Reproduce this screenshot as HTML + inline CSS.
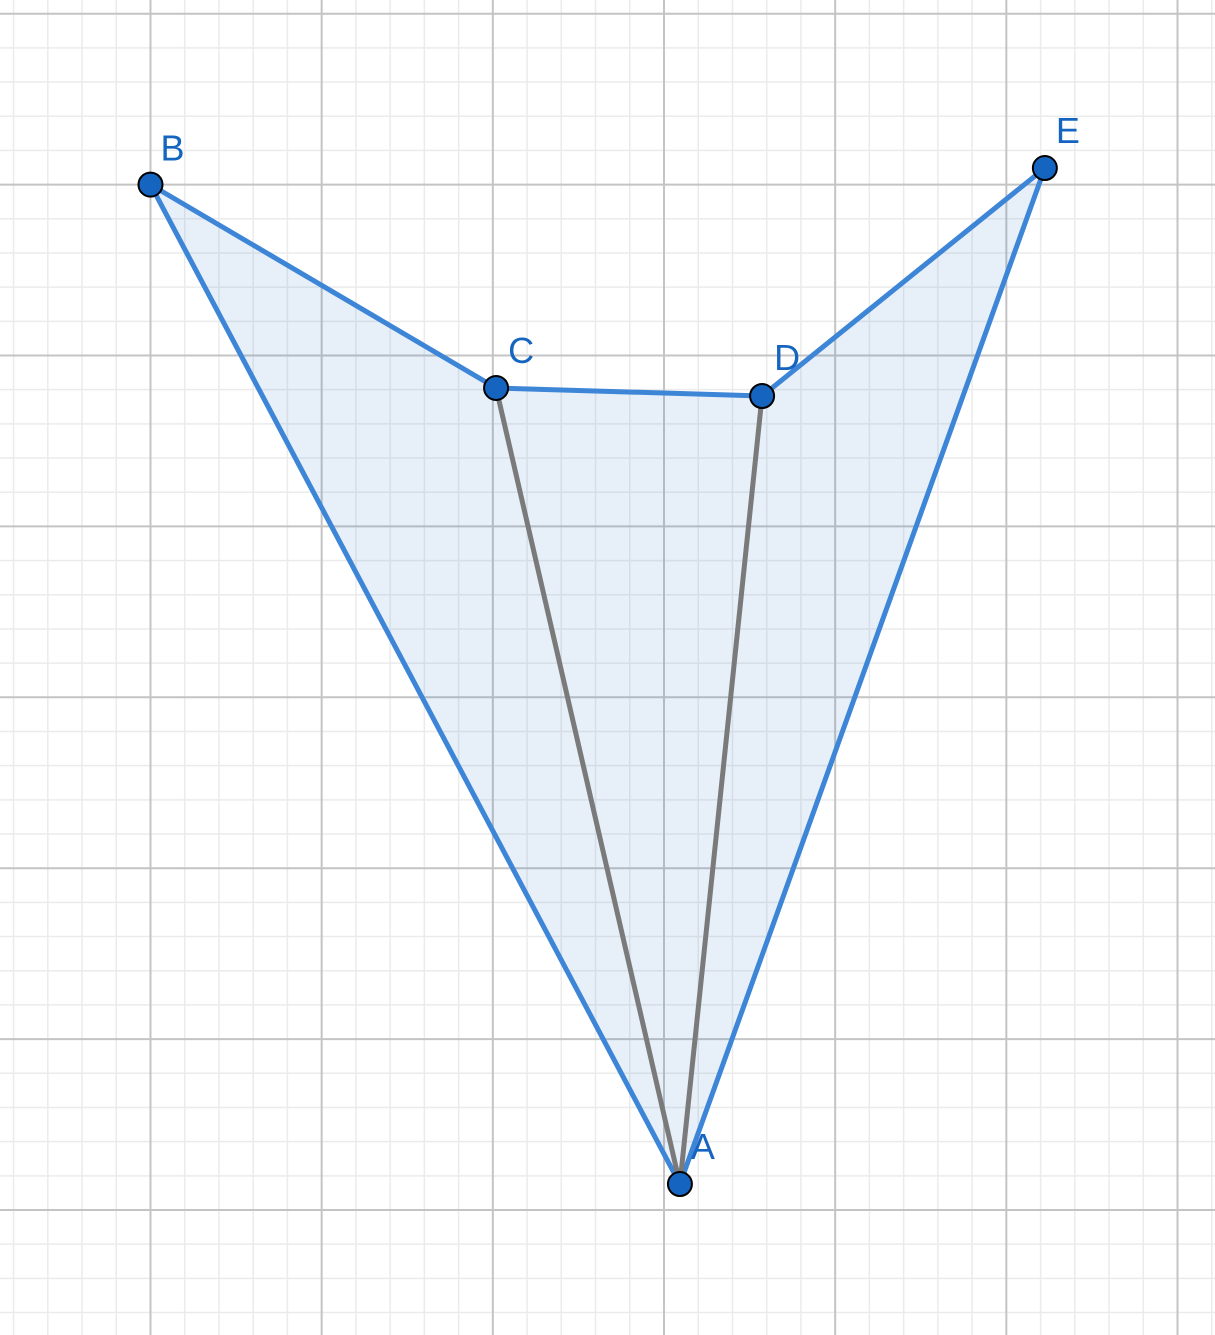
<!DOCTYPE html>
<html><head><meta charset="utf-8"><style>
html,body{margin:0;padding:0;background:#fff;}
svg{display:block;}
text{font-family:"Liberation Sans",sans-serif;font-size:36px;fill:#1565c0;}
</style></head><body>
<svg id="chart" width="1215" height="1335" viewBox="0 0 1215 1335" xmlns="http://www.w3.org/2000/svg">
<g id="grid"></g>
<g id="shape"></g>
</svg>
<script>
const pointNames = ["A","B","C","D","E"];
const pointX = [0.093, -3.0, -0.981, 0.573, 2.225];
const pointY = [0.152, 6.0, 4.81, 4.763, 6.097];
const polygonOrder = ["A","B","C","D","E"];
const segments = [["C","A"],["D","A"]];

const NS="http://www.w3.org/2000/svg";
const unitX=171.17, unitY=170.9, ox=664, oy=1210;
const sx=v=>ox+v*unitX, sy=v=>oy-v*unitY;
const grid=document.getElementById('grid');
const shape=document.getElementById('shape');
function mk(tag,attrs,parent){const e=document.createElementNS(NS,tag);for(const k in attrs)e.setAttribute(k,attrs[k]);parent.appendChild(e);return e;}
for(let i=-20;i<=40;i++){
  const v=i/5; if(i%5===0) continue;
  const x=sx(v); if(x>=0&&x<=1215){const l=mk('line',{x1:x,y1:0,x2:x,y2:1335,stroke:'#ebebeb','stroke-width':1.5},grid);
  
  }
  const y=sy(v); if(y>=0&&y<=1335){const l=mk('line',{x1:0,y1:y,x2:1215,y2:y,stroke:'#ebebeb','stroke-width':1.5},grid);
  
  }
}
for(let i=-4;i<=8;i++){
  const x=sx(i); if(x>=0&&x<=1215){const l=mk('line',{x1:x,y1:0,x2:x,y2:1335,stroke:'#c4c4c4','stroke-width':2},grid);
  
  }
  const y=sy(i); if(y>=0&&y<=1335){const l=mk('line',{x1:0,y1:y,x2:1215,y2:y,stroke:'#c4c4c4','stroke-width':2},grid);
  
  }
}
const P={};pointNames.forEach((n,i)=>P[n]=[sx(pointX[i]),sy(pointY[i])]);
const pts=polygonOrder.map(n=>P[n].join(',')).join(' ');
const poly=mk('polygon',{points:pts,fill:'rgba(21,101,192,0.1)',stroke:'#3d85d6','stroke-width':5,'stroke-linejoin':'round'},shape);


segments.forEach(s=>{
  const l=mk('line',{x1:P[s[0]][0],y1:P[s[0]][1],x2:P[s[1]][0],y2:P[s[1]][1],stroke:'#7a7a7a','stroke-width':5},shape);
  
  
});
const labelOff={A:[23,-38],B:[22,-37],C:[25,-38],D:[25,-39],E:[23,-38]};
pointNames.forEach(n=>{
  const c=mk('circle',{cx:P[n][0],cy:P[n][1],r:12,fill:'#1565c0',stroke:'#000','stroke-width':2},shape);
  
  
  const t=mk('text',{x:P[n][0]+labelOff[n][0],y:P[n][1]+labelOff[n][1]+13,'text-anchor':'middle'},shape);
  t.textContent=n;
  
  
});
</script>
</body></html>
